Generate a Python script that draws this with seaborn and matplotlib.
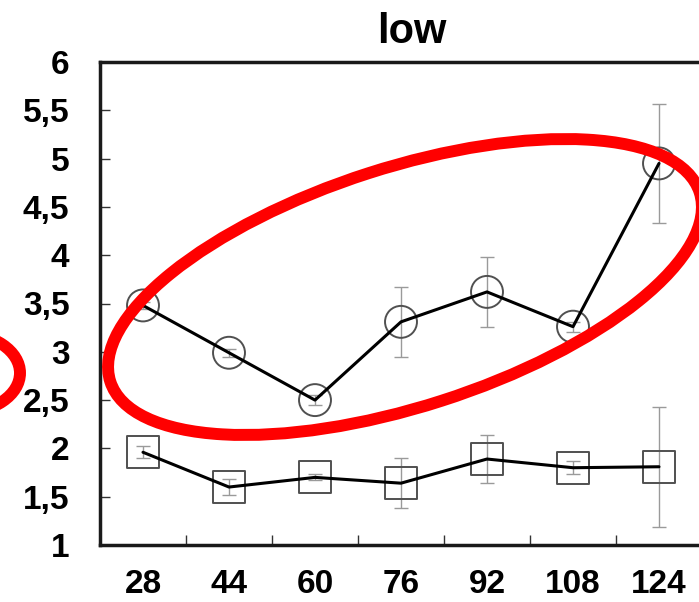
import numpy as np
import pandas as pd
import matplotlib
matplotlib.use("Agg")
import matplotlib.pyplot as plt
import seaborn as sns
from matplotlib.patches import Ellipse
from matplotlib.transforms import IdentityTransform

# ---- data ----
categories = ["28", "44", "60", "76", "92", "108", "124"]
circle_values = [3.48, 2.99, 2.50, 3.31, 3.62, 3.26, 4.95]
circle_errors = [0.04, 0.04, 0.05, 0.36, 0.36, 0.05, 0.62]
square_values = [1.96, 1.60, 1.70, 1.64, 1.89, 1.80, 1.81]
square_errors = [0.06, 0.08, 0.03, 0.26, 0.25, 0.07, 0.62]
y_ticks = [1, 1.5, 2, 2.5, 3, 3.5, 4, 4.5, 5, 5.5, 6]
y_ticklabels = ["1", "1,5", "2", "2,5", "3", "3,5", "4", "4,5", "5", "5,5", "6"]
title = "low"

sns.set_style("white")
plt.rcParams["font.family"] = ["Liberation Sans", "DejaVu Sans"]
plt.rcParams["text.color"] = "black"
plt.rcParams["xtick.color"] = "black"
plt.rcParams["ytick.color"] = "black"
plt.rcParams["axes.labelcolor"] = "black"

pos = np.arange(len(categories))
df = pd.DataFrame({
    "pos": np.concatenate([pos, pos]),
    "value": circle_values + square_values,
    "err": circle_errors + square_errors,
    "series": ["circle"] * len(pos) + ["square"] * len(pos),
})

fig = plt.figure(figsize=(6.99, 6.02), dpi=100)
ax = fig.add_axes([100 / 699, 57 / 602, 602 / 699, 483 / 602])

# error bars
for s in ["circle", "square"]:
    d = df[df.series == s]
    ax.errorbar(d.pos, d.value, yerr=d.err, fmt="none", ecolor="#9a9a9a",
                elinewidth=1.0, capsize=5, capthick=1.0, zorder=1)

# markers
ms = 23
d = df[df.series == "circle"]
sns.scatterplot(x=d.pos, y=d.value, marker="o", s=ms ** 2, facecolor="none",
                edgecolor="#505050", linewidth=1.4, ax=ax, zorder=2)
d = df[df.series == "square"]
sns.scatterplot(x=d.pos, y=d.value, marker="s", s=ms ** 2, facecolor="none",
                edgecolor="#505050", linewidth=1.4, ax=ax, zorder=2)

# lines
sns.lineplot(data=df, x="pos", y="value", units="series", estimator=None,
             color="black", linewidth=2.2, ax=ax, zorder=3)

ax.set_xlim(-0.5, len(categories) - 0.5)
ax.set_ylim(1, 6)
ax.set_xticks(pos)
ax.set_xticklabels(categories)
ax.set_xticks(np.arange(0.5, len(categories) - 1, 1.0), minor=True)
ax.set_yticks(y_ticks)
ax.set_yticklabels(y_ticklabels)
ax.set_xlabel("")
ax.set_ylabel("")

ax.tick_params(axis="x", which="major", length=0, pad=17, labelsize=24,
               labelcolor="black")
ax.tick_params(axis="x", which="minor", direction="in", length=7, width=1.0,
               color="#333333", bottom=True)
ax.tick_params(axis="y", which="major", direction="in", length=7, width=1.0,
               color="#333333", pad=22, labelsize=24, left=True,
               labelcolor="black")
for lab in ax.get_xticklabels() + ax.get_yticklabels():
    lab.set_fontweight("bold")

for side in ["left", "bottom", "top", "right"]:
    ax.spines[side].set_visible(True)
    ax.spines[side].set_color("#1a1a1a")
    ax.spines[side].set_linewidth(2.5)

ax.set_title(title, fontsize=30, fontweight="bold", x=0.518, pad=14,
             color="black")

if ax.get_legend() is not None:
    ax.get_legend().remove()

# red annotation ellipses (pixel coordinates, y up)
big = Ellipse((405, 602 - 287), 619, 239, angle=17.8, fill=False,
              edgecolor="#ff0000", linewidth=8.6, transform=IdentityTransform(),
              clip_on=False, zorder=10)
fig.add_artist(big)
small = Ellipse((-39, 602 - 373), 118, 80, angle=0, fill=False,
                edgecolor="#ff0000", linewidth=8.6, transform=IdentityTransform(),
                clip_on=False, zorder=10)
fig.add_artist(small)

fig.savefig("out.png", dpi=100)
